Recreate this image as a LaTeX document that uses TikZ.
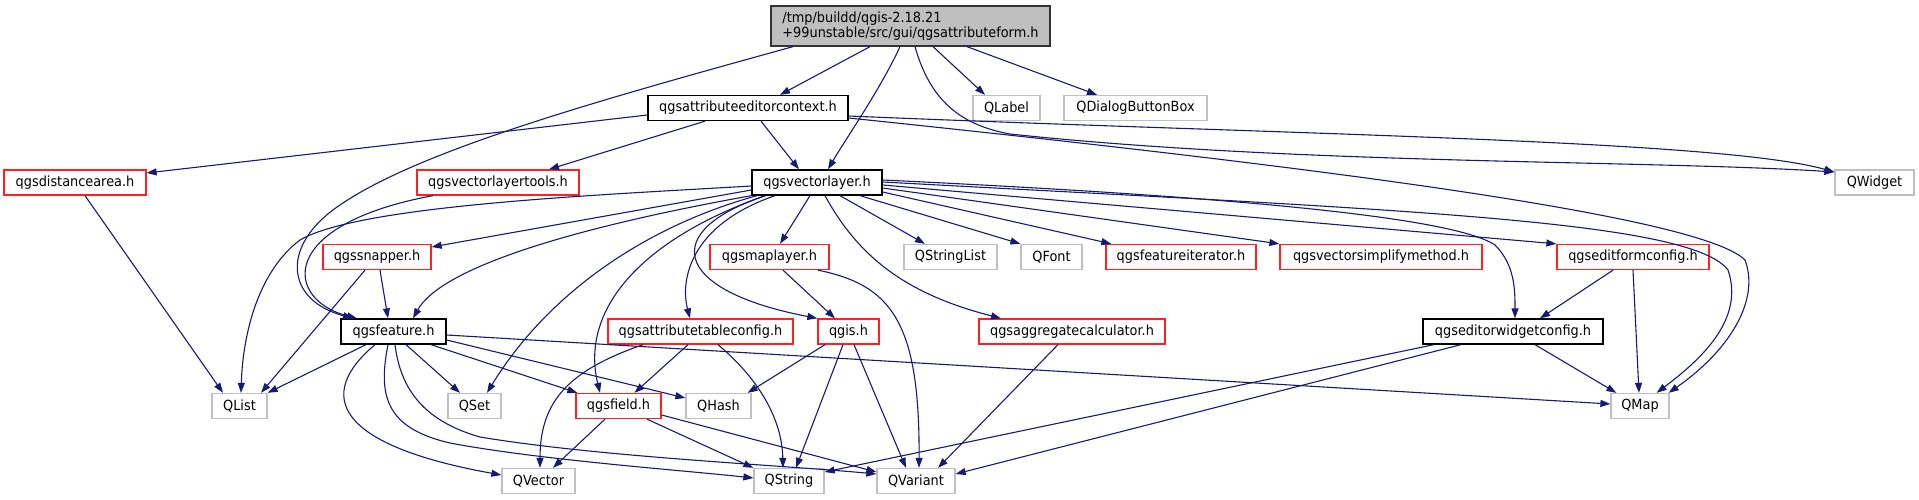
\documentclass[tikz,border=0pt]{standalone}
\usepackage{fontspec}
\setmainfont{DejaVu Sans}[FakeStretch=0.92]
\usetikzlibrary{arrows.meta}
\definecolor{edgec}{HTML}{191970}
\definecolor{grayb}{HTML}{BFBFBF}
\definecolor{redb}{HTML}{FF2020}
\begin{document}
\begin{tikzpicture}[x=1pt,y=-1pt,
  font=\fontsize{14pt}{15pt}\selectfont,
  box/.style={draw, rectangle, inner sep=0pt, minimum height=25pt, line width=1.3pt, fill=white},
  blackbox/.style={box, draw=black},
  redbox/.style={box, draw=redb},
  graybox/.style={box, draw=grayb},
  rootbox/.style={box, draw=black!80, fill=grayb, minimum height=40pt, align=left},
  dep/.style={draw=edgec, line width=1.1pt, -{Triangle[length=10pt,width=7pt]}}
]
\useasboundingbox (0,0) rectangle (1919,500);

% nodes
\node[rootbox, minimum width=279pt] (root) at (910.5,26) {/tmp/buildd/qgis-2.18.21\\+99unstable/src/gui/qgsattributeform.h};
\node[blackbox, minimum width=200pt] (ctx) at (748,108) {qgsattributeeditorcontext.h};
\node[graybox, minimum width=67pt] (qlabel) at (1006.5,108) {QLabel};
\node[graybox, minimum width=143pt] (qdbb) at (1135.5,108) {QDialogButtonBox};
\node[redbox, minimum width=142pt] (dist) at (75,182.5) {qgsdistancearea.h};
\node[redbox, minimum width=162pt] (vlt) at (498,182.5) {qgsvectorlayertools.h};
\node[blackbox, minimum width=130pt] (vl) at (817,182.5) {qgsvectorlayer.h};
\node[graybox, minimum width=79pt] (qwidget) at (1874.5,182.5) {QWidget};
\node[redbox, minimum width=108pt] (snap) at (377,257) {qgssnapper.h};
\node[redbox, minimum width=119pt] (mapl) at (769.5,257) {qgsmaplayer.h};
\node[graybox, minimum width=93pt] (qsl) at (950.5,257) {QStringList};
\node[graybox, minimum width=61pt] (qfont) at (1051.5,257) {QFont};
\node[redbox, minimum width=150pt] (fiter) at (1181,257) {qgsfeatureiterator.h};
\node[redbox, minimum width=202pt] (simp) at (1381,257) {qgsvectorsimplifymethod.h};
\node[redbox, minimum width=152pt] (efc) at (1633,257) {qgseditformconfig.h};
\node[blackbox, minimum width=105pt] (feat) at (393.5,331.5) {qgsfeature.h};
\node[redbox, minimum width=185pt] (atc) at (700.5,331.5) {qgsattributetableconfig.h};
\node[redbox, minimum width=61pt] (qgis) at (848.5,331.5) {qgis.h};
\node[redbox, minimum width=186pt] (agg) at (1072,331.5) {qgsaggregatecalculator.h};
\node[blackbox, minimum width=180pt] (ewc) at (1513,331.5) {qgseditorwidgetconfig.h};
\node[graybox, minimum width=55pt] (qlist) at (239.5,406) {QList};
\node[graybox, minimum width=53pt] (qset) at (474.5,406) {QSet};
\node[redbox, minimum width=85pt] (field) at (618.5,406) {qgsfield.h};
\node[graybox, minimum width=65pt] (qhash) at (718.5,406) {QHash};
\node[graybox, minimum width=58pt] (qmap) at (1640,406) {QMap};
\node[graybox, minimum width=73pt] (qvec) at (538.5,481) {QVector};
\node[graybox, minimum width=70pt] (qstr) at (789,481) {QString};
\node[graybox, minimum width=78pt] (qvar) at (916,481) {QVariant};

% root edges
\draw[dep] ([xshift=-117.5pt]root.south) .. controls (600,100) and (420,150) .. (340,205) .. controls (280,245) and (285,300) .. ([xshift=-40.5pt]feat.north);
\draw[dep] ([xshift=-40.5pt]root.south) -- ([xshift=32pt]ctx.north);
\draw[dep] ([xshift=-10.5pt]root.south) .. controls (880,90) and (845,140) .. ([xshift=11pt]vl.north);
\draw[dep] ([xshift=4.5pt]root.south) .. controls (930,100) and (960,125) .. (1010,134) .. controls (1300,165) and (1650,160) .. ([yshift=10.5pt]qwidget.west);
\draw[dep] ([xshift=22.5pt]root.south) -- ([xshift=-21.5pt]qlabel.north);
\draw[dep] ([xshift=56.5pt]root.south) -- ([xshift=-38.5pt]qdbb.north);

% ctx edges
\draw[dep] ([yshift=-7pt]ctx.west) -- ([yshift=9.5pt]dist.east);
\draw[dep] ([xshift=-43pt]ctx.south) -- ([xshift=51pt]vlt.north);
\draw[dep] ([xshift=13pt]ctx.south) -- ([xshift=-18pt]vl.north);
\draw[dep] ([yshift=-8pt]ctx.east) .. controls (1300,135) and (1720,140) .. ([yshift=10.5pt]qwidget.west);
\draw[dep] ([yshift=-10pt]ctx.east) .. controls (1300,165) and (1700,215) .. (1745,260) .. controls (1760,300) and (1730,350) .. ([xshift=-1pt]qmap.north east);

% dist, vlt
\draw[dep] ([xshift=10pt]dist.south) -- ([xshift=-16.5pt]qlist.north);
\draw[dep] ([xshift=-65pt]vlt.south) .. controls (275,225) and (285,300) .. ([xshift=-36.5pt]feat.north);

% vl edges
\draw[dep] ([yshift=-3.5pt]vl.west) .. controls (600,195) and (360,205) .. (300,240) .. controls (260,270) and (243,330) .. ([xshift=1.5pt]qlist.north);
\draw[dep] ([yshift=-7.5pt]vl.west) -- ([yshift=10pt]snap.east);
\draw[dep] (vl.south west) .. controls (560,230) and (440,270) .. ([xshift=19.5pt]feat.north);
\draw[dep] ([xshift=-60pt]vl.south) .. controls (650,225) and (550,290) .. ([xshift=12.5pt]qset.north);
\draw[dep] ([xshift=-52pt]vl.south) .. controls (640,240) and (580,310) .. ([xshift=-18.5pt]field.north);
\draw[dep] ([xshift=-42pt]vl.south) .. controls (690,225) and (680,280) .. ([xshift=-10.5pt]atc.north);
\draw[dep] ([xshift=-51pt]vl.south) .. controls (660,230) and (670,290) .. (qgis.north west);
\draw[dep] ([xshift=-7pt]vl.south) -- ([xshift=10.5pt]mapl.north);
\draw[dep] ([xshift=8pt]vl.south) .. controls (860,260) and (910,295) .. ([xshift=-71pt]agg.north);
\draw[dep] ([xshift=23pt]vl.south) -- ([xshift=-25.5pt]qsl.north);
\draw[dep] ([xshift=43pt]vl.south) -- (qfont.north west);
\draw[dep] ([yshift=-9.5pt]vl.east) -- ([xshift=6pt]fiter.north west);
\draw[dep] ([yshift=-5.5pt]vl.east) -- (simp.north west);
\draw[dep] ([yshift=-2.5pt]vl.east) -- (efc.north west);
\draw[dep] ([yshift=2.5pt]vl.east) .. controls (1200,195) and (1450,215) .. (1495,245) .. controls (1515,265) and (1515,290) .. ([xshift=2pt]ewc.north);
\draw[dep] ([yshift=0.5pt]vl.east) .. controls (1400,210) and (1690,220) .. (1728,270) .. controls (1745,320) and (1700,360) .. ([xshift=-13pt]qmap.north east);

% snapper, maplayer, editformconfig
\draw[dep] ([xshift=-12pt]snap.south) -- ([xshift=21.5pt]qlist.north);
\draw[dep] ([xshift=3pt]snap.south) -- ([xshift=-5.5pt]feat.north);
\draw[dep] ([xshift=13.5pt]mapl.south) -- ([xshift=-13.5pt]qgis.north);
\draw[dep] ([xshift=48.5pt]mapl.south) .. controls (890,285) and (920,320) .. ([xshift=3pt]qvar.north);
\draw[dep] ([xshift=-20pt]efc.south) -- ([xshift=27pt]ewc.north);
\draw[dep] (efc.south) -- ([xshift=-1pt]qmap.north);

% feature edges
\draw[dep] ([xshift=-27.5pt]feat.south) -- (qlist.north east);
\draw[dep] ([xshift=12.5pt]feat.south) -- ([xshift=-14.5pt]qset.north);
\draw[dep] ([xshift=37.5pt]feat.south) -- ([xshift=2pt]field.north west);
\draw[dep] ([yshift=-8.5pt]feat.east) -- ([yshift=8pt]qhash.west);
\draw[dep] ([yshift=-3.5pt]feat.east) -- ([yshift=2pt]qmap.west);
\draw[dep] ([xshift=-18.5pt]feat.south) .. controls (315,395) and (335,445) .. ([yshift=6pt]qvec.west);
\draw[dep] ([xshift=-5.5pt]feat.south) .. controls (378,395) and (385,428) .. (450,443) .. controls (540,460) and (680,470) .. ([yshift=3pt]qstr.west);
\draw[dep] ([xshift=1.5pt]feat.south) .. controls (400,385) and (420,420) .. (480,437) .. controls (600,457) and (780,465) .. ([yshift=7pt]qvar.west);

% attributetableconfig, qgis, aggregatecalculator, field, editorwidgetconfig
\draw[dep] ([xshift=-57.5pt]atc.south) .. controls (570,370) and (540,400) .. ([xshift=1.5pt]qvec.north);
\draw[dep] ([xshift=-12.5pt]atc.south) -- ([xshift=16pt]field.north);
\draw[dep] ([xshift=17.5pt]atc.south) .. controls (760,380) and (782,420) .. ([xshift=-6pt]qstr.north);
\draw[dep] ([xshift=-23.5pt]qgis.south) -- ([xshift=-4pt]qhash.north east);
\draw[dep] ([xshift=-5.5pt]qgis.south) -- ([xshift=7pt]qstr.north);
\draw[dep] ([xshift=5.5pt]qgis.south) -- ([xshift=-10pt]qvar.north);
\draw[dep] ([xshift=-14pt]agg.south) -- ([xshift=22pt]qvar.north);
\draw[dep] ([xshift=-13.5pt]field.south) -- ([xshift=14.5pt]qvec.north);
\draw[dep] ([xshift=28.5pt]field.south) -- (qstr.north west);
\draw[dep] ([yshift=-9pt]field.east) -- ([yshift=9pt]qvar.west);
\draw[dep] ([xshift=-79pt]ewc.south) -- ([yshift=9pt]qstr.east);
\draw[dep] ([xshift=-52pt]ewc.south) -- ([yshift=7pt]qvar.east);
\draw[dep] ([xshift=22pt]ewc.south) -- ([xshift=6pt]qmap.north west);
\end{tikzpicture}
\end{document}
